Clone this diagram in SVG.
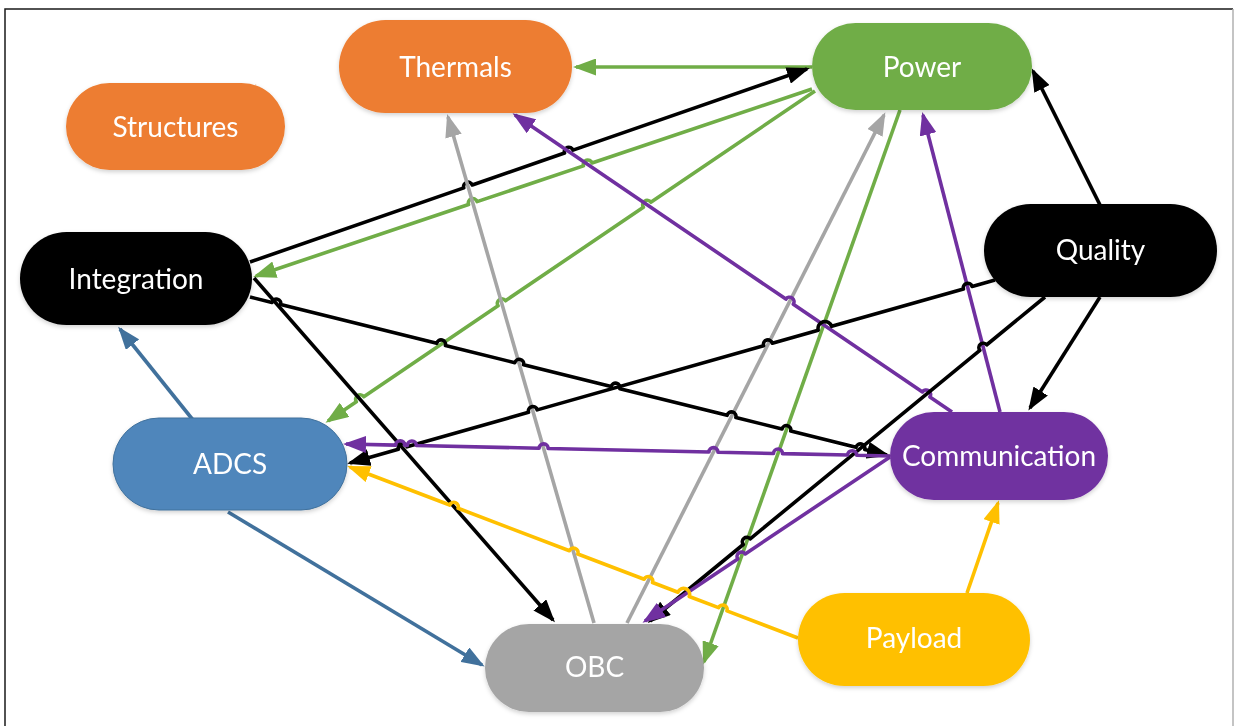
<svg xmlns="http://www.w3.org/2000/svg" width="1234" height="726" viewBox="0 0 1234 726">
<style>
.nt{font-family:Lato,"Open Sans","Liberation Sans",sans-serif;font-size:28px;fill:#fff;text-anchor:middle}
.c{fill:none;stroke-width:3.6;stroke-linecap:butt;stroke-linejoin:round}
.k{stroke:#000}.g{stroke:#70AD47}.y{stroke:#A5A5A5}.p{stroke:#7030A0}.b{stroke:#41719C}.o{stroke:#FFC000}
</style>
<defs>
<filter id="sh" x="-10%" y="-10%" width="120%" height="130%"><feDropShadow dx="0" dy="2" stdDeviation="2" flood-color="#000" flood-opacity="0.18"/></filter>
<marker id="mk" viewBox="0 0 23 17" refX="20" refY="8.5" markerWidth="23" markerHeight="17" markerUnits="userSpaceOnUse" orient="auto"><path d="M0,0L23,8.5L0,17z" fill="#000"/></marker>
<marker id="mg" viewBox="0 0 23 17" refX="20" refY="8.5" markerWidth="23" markerHeight="17" markerUnits="userSpaceOnUse" orient="auto"><path d="M0,0L23,8.5L0,17z" fill="#70AD47"/></marker>
<marker id="my" viewBox="0 0 23 17" refX="20" refY="8.5" markerWidth="23" markerHeight="17" markerUnits="userSpaceOnUse" orient="auto"><path d="M0,0L23,8.5L0,17z" fill="#A5A5A5"/></marker>
<marker id="mp" viewBox="0 0 23 17" refX="20" refY="8.5" markerWidth="23" markerHeight="17" markerUnits="userSpaceOnUse" orient="auto"><path d="M0,0L23,8.5L0,17z" fill="#7030A0"/></marker>
<marker id="mb" viewBox="0 0 23 17" refX="20" refY="8.5" markerWidth="23" markerHeight="17" markerUnits="userSpaceOnUse" orient="auto"><path d="M0,0L23,8.5L0,17z" fill="#41719C"/></marker>
<marker id="mo" viewBox="0 0 23 17" refX="20" refY="8.5" markerWidth="23" markerHeight="17" markerUnits="userSpaceOnUse" orient="auto"><path d="M0,0L23,8.5L0,17z" fill="#FFC000"/></marker>
</defs>
<rect width="1234" height="726" fill="#fff"/>
<path d="M5,726V9H1233" fill="none" stroke="#1a1a1a" stroke-width="1.5"/>
<line x1="1233" y1="9" x2="1233" y2="726" stroke="#b0b0b0" stroke-width="1.5"/>

<g id="connectors">
<path class="c g" d="M812,67L576,67" marker-end="url(#mg)"/>
<path class="c k" d="M250,262L463.79,187.92A4.5,4.5 0 0 1 472.29,184.98L564.52,153.02A4.5,4.5 0 0 1 573.02,150.08L807,69" marker-end="url(#mk)"/>
<path class="c g" d="M812,89L591.99,163A4.5,4.5 0 0 0 583.46,165.86L477.1,201.64A4.5,4.5 0 0 0 468.56,204.51L256,276" marker-end="url(#mg)"/>
<path class="c g" d="M815,91L650.83,202.25A4.5,4.5 0 0 0 643.38,207.29L505.48,300.74A4.5,4.5 0 0 0 498.03,305.78L363.77,396.77A4.5,4.5 0 0 0 356.32,401.81L328,421" marker-end="url(#mg)"/>
<path class="c y" d="M594,623L448,117" marker-end="url(#my)"/>
<path class="c y" d="M627,623L884,115" marker-end="url(#my)"/>
<path class="c g" d="M900,110L704,662" marker-end="url(#mg)"/>
<path class="c p" d="M1000,412L923,115" marker-end="url(#mp)"/>
<path class="c p" d="M952,412L929.9,396.98A4.5,4.5 0 0 0 922.46,391.92L793.31,304.15A4.5,4.5 0 0 0 785.87,299.09L515,115" marker-end="url(#mp)"/>
<path class="c k" d="M1100,205L1033,71" marker-end="url(#mk)"/>
<path class="c k" d="M1100,297L1030,408" marker-end="url(#mk)"/>
<path class="c k" d="M995,280L972.11,286.49A4.5,4.5 0 0 0 963.45,288.95L831.67,326.34A7,7 0 0 0 818.21,330.16L772.27,343.19A4.5,4.5 0 0 0 763.61,345.65L537.2,409.89A4.5,4.5 0 0 0 528.54,412.35L407,446.82A4.5,4.5 0 0 0 398.34,449.28L350,463" marker-end="url(#mk)"/>
<path class="c k" d="M1045,297L986.78,344.76A4.5,4.5 0 0 0 979.82,350.46L750.22,538.8A4.5,4.5 0 0 0 743.26,544.5L650,621" marker-end="url(#mk)"/>
<path class="c k" d="M250,297L271.95,302.45A4.5,4.5 0 0 1 280.69,304.61L436.69,343.31A4.5,4.5 0 0 1 445.43,345.47L514.83,362.69A4.5,4.5 0 0 1 523.57,364.85L611.15,386.58A4.5,4.5 0 0 1 619.89,388.74L727.13,415.35A4.5,4.5 0 0 1 735.87,417.51L781.99,428.96A4.5,4.5 0 0 1 790.73,431.12L856.04,447.33A4.5,4.5 0 0 1 864.78,449.49L887,455" marker-end="url(#mk)"/>
<path class="c k" d="M254,278L553,620" marker-end="url(#mk)"/>
<path class="c p" d="M890,456L856.67,455.27A4.5,4.5 0 0 0 847.67,455.07L782.53,453.63A4.5,4.5 0 0 0 773.53,453.43L717.96,452.21A4.5,4.5 0 0 0 708.96,452.01L548.11,448.46A4.5,4.5 0 0 0 539.11,448.26L416.33,445.55A4.5,4.5 0 0 0 407.33,445.35L404.67,445.3A4.5,4.5 0 0 0 395.67,445.1L346,444" marker-end="url(#mp)"/>
<path class="c p" d="M890,457L745.23,553.92A4.5,4.5 0 0 0 737.75,558.92L645,621" marker-end="url(#mp)"/>
<path class="c b" d="M193,420L120,329" marker-end="url(#mb)"/>
<path class="c b" d="M228,512L482,665" marker-end="url(#mb)"/>
<path class="c o" d="M798,638L726.93,610.88A4.5,4.5 0 0 0 718.53,607.67L689.23,596.48A6,6 0 0 0 678.01,592.2L652.52,582.47A4.5,4.5 0 0 0 644.12,579.26L577.82,553.96A4.5,4.5 0 0 0 569.42,550.75L458.1,508.26A4.5,4.5 0 0 0 449.7,505.05L350,467" marker-end="url(#mo)"/>
<path class="c o" d="M967,593L998,503" marker-end="url(#mo)"/>
</g>

<g id="structures" filter="url(#sh)"><rect x="66" y="83" width="219" height="87" rx="43.5" fill="#ED7D31"/><text class="nt" x="175.5" y="137">Structures</text></g>
<g id="thermals" filter="url(#sh)"><rect x="339" y="20" width="233" height="93" rx="46.5" fill="#ED7D31"/><text class="nt" x="455.5" y="76.5">Thermals</text></g>
<g id="power" filter="url(#sh)"><rect x="812" y="23" width="220" height="87" rx="43.5" fill="#70AD47"/><text class="nt" x="922" y="76.5">Power</text></g>
<g id="integration" filter="url(#sh)"><rect x="20" y="232" width="232" height="93" rx="46.5" fill="#000"/><text class="nt" x="136" y="288.5">Integration</text></g>
<g id="adcs" filter="url(#sh)"><rect x="113" y="418" width="234" height="92" rx="46" fill="#4F86BB" stroke="#41719C" stroke-width="1"/><text class="nt" x="230" y="474">ADCS</text></g>
<g id="quality" filter="url(#sh)"><rect x="984" y="204" width="233" height="93" rx="46.5" fill="#000"/><text class="nt" x="1100.5" y="260">Quality</text></g>
<g id="communication" filter="url(#sh)"><rect x="890" y="412" width="218" height="88" rx="44" fill="#7030A0"/><text class="nt" x="999" y="466">Communication</text></g>
<g id="obc" filter="url(#sh)"><rect x="485" y="624" width="219" height="88" rx="44" fill="#A5A5A5"/><text class="nt" x="594.5" y="677">OBC</text></g>
<g id="payload" filter="url(#sh)"><rect x="798" y="593" width="232" height="93" rx="46.5" fill="#FFC000"/><text class="nt" x="914" y="648">Payload</text></g>
</svg>
